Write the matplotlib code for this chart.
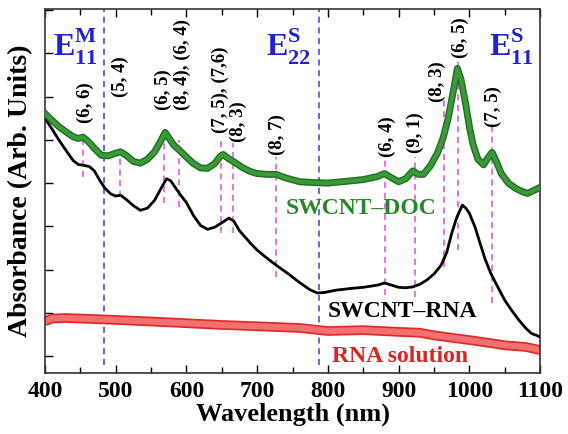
import numpy as np
import matplotlib
matplotlib.use('Agg')
from matplotlib import pyplot as plt
from matplotlib.ticker import MultipleLocator

plt.rcParams['font.family'] = ['Liberation Serif', 'DejaVu Serif']
plt.rcParams['font.weight'] = 'bold'
plt.rcParams['mathtext.fontset'] = 'custom'
plt.rcParams['mathtext.rm'] = 'Liberation Serif'
plt.rcParams['mathtext.bf'] = 'Liberation Serif:bold'

# SWCNT-DOC (green)
doc_wl = [400, 410, 420, 431, 440, 447, 454, 462, 470, 480, 490, 500, 507, 515, 525, 535,
          545, 555, 563, 570, 575, 582, 590, 600, 610, 620, 630, 640, 648, 652, 660, 668,
          680, 690, 700, 715, 727, 740, 760, 780, 800, 820, 850, 870, 880, 890, 900, 910,
          920, 928, 935, 945, 955, 963, 970, 977, 983, 988, 995, 1000, 1005, 1012, 1020,
          1027, 1032, 1038, 1045, 1055, 1065, 1075, 1082, 1090, 1100]
doc_abs = [5.61, 5.45, 5.30, 5.17, 5.07, 5.03, 5.06, 4.95, 4.80, 4.64, 4.63, 4.69, 4.72, 4.64,
           4.50, 4.46, 4.55, 4.72, 4.95, 5.17, 5.05, 4.88, 4.76, 4.60, 4.45, 4.35, 4.34, 4.45,
           4.62, 4.66, 4.56, 4.48, 4.35, 4.27, 4.22, 4.20, 4.20, 4.12, 4.03, 4.01, 4.00, 4.03,
           4.08, 4.15, 4.22, 4.12, 4.03, 4.10, 4.28, 4.20, 4.20, 4.40, 4.70, 5.05, 5.50, 6.10,
           6.65, 6.40, 5.80, 5.30, 4.90, 4.55, 4.42, 4.60, 4.71, 4.50, 4.22, 4.00, 3.88, 3.80,
           3.76, 3.82, 3.90]

# SWCNT-RNA (black)
rna_wl = [400, 410, 420, 430, 440, 447, 455, 463, 470, 478, 485, 493, 500, 507, 515, 525,
          535, 545, 555, 565, 572, 578, 585, 592, 600, 610, 620, 630, 640, 650, 660, 667,
          675, 690, 700, 715, 727, 745, 760, 775, 785, 795, 810, 830, 850, 870, 880, 890,
          900, 910, 920, 930, 940, 950, 960, 968, 975, 982, 990, 995, 1000, 1008, 1015,
          1022, 1030, 1040, 1050, 1060, 1070, 1080, 1088, 1095, 1100]
rna_abs = [5.50, 5.25, 4.99, 4.75, 4.52, 4.43, 4.41, 4.38, 4.28, 4.05, 3.88, 3.75, 3.70, 3.72,
           3.62, 3.48, 3.37, 3.42, 3.60, 3.90, 4.10, 4.05, 3.88, 3.72, 3.55, 3.25, 3.02, 2.93,
           2.98, 3.08, 3.19, 3.12, 2.90, 2.62, 2.45, 2.25, 2.10, 1.89, 1.70, 1.53, 1.46, 1.47,
           1.52, 1.56, 1.59, 1.64, 1.69, 1.64, 1.59, 1.58, 1.60, 1.66, 1.76, 1.90, 2.10, 2.40,
           2.84, 3.20, 3.49, 3.42, 3.30, 2.98, 2.61, 2.25, 1.92, 1.60, 1.29, 1.05, 0.83, 0.64,
           0.52, 0.48, 0.44]

# RNA solution (red)
sol_wl = [400, 410, 430, 480, 550, 600, 650, 700, 760, 800, 850, 900, 930, 950, 1000, 1030,
          1050, 1080, 1100]
sol_abs = [0.80, 0.87, 0.88, 0.85, 0.80, 0.76, 0.72, 0.69, 0.65, 0.58, 0.60, 0.56, 0.54, 0.48,
           0.37, 0.30, 0.25, 0.21, 0.14]

# chirality markers
chi_wl = [454, 506, 569, 590, 649, 666, 727, 881, 923, 964, 984, 1032]
chi_lo = [4.13, 3.67, 3.53, 3.44, 2.84, 2.84, 1.82, 1.41, 1.36, 2.06, 2.45, 1.22]
chi_hi = [5.06, 4.71, 5.17, 4.99, 5.06, 4.92, 4.60, 4.53, 4.60, 5.91, 6.90, 5.29]

chi_text = ['(6, 6)', '(5, 4)', '(6, 5)', '(8, 4), (6, 4)', '(7, 5), (7,6)', '(8, 3)', '(8, 7)',
            '(6, 4)', '(9, 1)', '(8, 3)', '(6, 5)', '(7, 5)']
chi_tx = [457, 506, 567, 594, 648, 673, 728, 884, 923, 954, 987, 1034]
chi_ty = [5.38, 5.98, 5.68, 5.68, 5.15, 4.94, 4.64, 4.60, 4.69, 5.87, 6.90, 5.29]

# transition boundaries
band_wl = [484, 788]
band_text = [r'$\mathbf{E}_{\mathbf{11}}^{\mathbf{M}}$', r'$\mathbf{E}_{\mathbf{22}}^{\mathbf{S}}$',
             r'$\mathbf{E}_{\mathbf{11}}^{\mathbf{S}}$']
band_tx = [443, 745, 1060]

fig = plt.figure(figsize=(5.68, 4.34), dpi=100)
ax = fig.add_axes([0.079, 0.1406, 0.872, 0.8384])

ax.vlines(band_wl, -0.2, 8.1, colors='#3b3bf0', linestyles=(0, (4, 3)), lw=1.1, zorder=1)
ax.vlines(chi_wl, chi_lo, chi_hi, colors='#e04ce0', linestyles=(0, (4, 3)), lw=1.1, zorder=1)

ax.plot(sol_wl, sol_abs, color='#e02a2a', lw=7, solid_capstyle='butt', zorder=2)
ax.plot(sol_wl, sol_abs, color='#f27070', lw=4.5, solid_capstyle='butt', zorder=2)
ax.plot(rna_wl, rna_abs, color='black', lw=2, zorder=3)
ax.plot(doc_wl, doc_abs, color='#1f6e1f', lw=5, zorder=4)
ax.plot(doc_wl, doc_abs, color='#3a9a3a', lw=3, zorder=4)

for t, x, y in zip(chi_text, chi_tx, chi_ty):
    ax.text(x, y, t, rotation=90, ha='center', va='bottom', fontsize=13.5, fontweight='bold')

for t, x in zip(band_text, band_tx):
    ax.text(x, 7.15, t, ha='center', va='center', fontsize=23, color='#2020d8')

ax.text(847, 3.42, 'SWCNT\u2013DOC', ha='center', va='center', fontsize=17,
        fontweight='bold', color='#2a862a')
ax.text(906, 1.04, 'SWCNT\u2013RNA', ha='center', va='center', fontsize=17,
        fontweight='bold', color='black')
ax.text(902, 0.0, 'RNA solution', ha='center', va='center', fontsize=17,
        fontweight='bold', color='#dd2222')

ax.set_xlim(400, 1100)
ax.set_ylim(-0.39, 8.02)
ax.xaxis.set_major_locator(MultipleLocator(100))
ax.xaxis.set_minor_locator(MultipleLocator(50))
ax.set_yticks(range(0, 9))
ax.set_yticklabels([])
ax.tick_params(axis='x', which='both', direction='in', top=True, labelsize=17, pad=6)
ax.tick_params(axis='x', which='major', length=6, width=1)
ax.tick_params(axis='x', which='minor', length=4, width=1)
ax.tick_params(axis='y', direction='in', length=6, width=1, right=False)
for s in ax.spines.values():
    s.set_color('#333333')
    s.set_linewidth(1.2)

ax.set_xlabel('Wavelength (nm)', fontsize=19, fontweight='bold', labelpad=0)
ax.set_ylabel('Absorbance (Arb. Units)', fontsize=20, fontweight='bold', labelpad=5)

fig.savefig('out.png', dpi=100)
